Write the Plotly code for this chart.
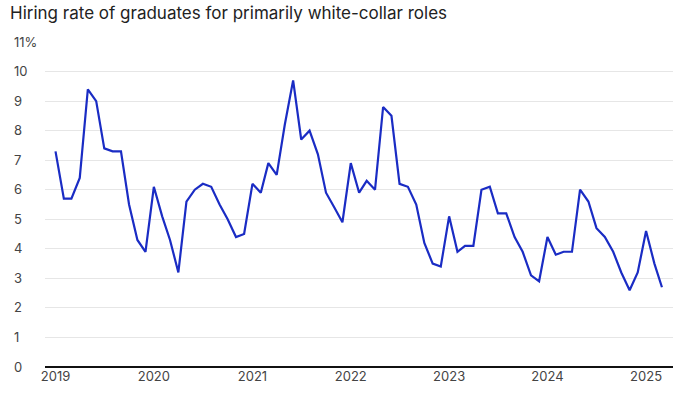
import plotly.graph_objects as go
import pandas as pd

title_text = "Hiring rate of graduates for primarily white-collar roles"
months = pd.date_range("2019-01-01", "2025-03-01", freq="MS")
hiring_rate = [
    7.3, 5.7, 5.7, 6.4, 9.4, 9.0, 7.4, 7.3, 7.3, 5.5, 4.3, 3.9,   # 2019
    6.1, 5.1, 4.3, 3.2, 5.6, 6.0, 6.2, 6.1, 5.5, 5.0, 4.4, 4.5,   # 2020
    6.2, 5.9, 6.9, 6.5, 8.2, 9.7, 7.7, 8.0, 7.2, 5.9, 5.4, 4.9,   # 2021
    6.9, 5.9, 6.3, 6.0, 8.8, 8.5, 6.2, 6.1, 5.5, 4.2, 3.5, 3.4,   # 2022
    5.1, 3.9, 4.1, 4.1, 6.0, 6.1, 5.2, 5.2, 4.4, 3.9, 3.1, 2.9,   # 2023
    4.4, 3.8, 3.9, 3.9, 6.0, 5.6, 4.7, 4.4, 3.9, 3.2, 2.6, 3.2,   # 2024
    4.6, 3.5, 2.7,                                                # 2025
]
y_ticks = list(range(0, 12))
y_ticktext = [str(v) for v in y_ticks[:-1]] + ["11%"]
x_tickvals = pd.date_range("2019-01-01", "2025-01-01", freq="YS")
x_ticktext = [str(d.year) for d in x_tickvals]

fig = go.Figure()
fig.add_trace(go.Scatter(
    x=months, y=hiring_rate, mode="lines",
    line=dict(color="#1a2cc4", width=2.2),
    hoverinfo="x+y",
))

fig.update_layout(
    width=700, height=394,
    margin=dict(l=10, r=27, t=42, b=27, autoexpand=False),
    paper_bgcolor="white", plot_bgcolor="white",
    showlegend=False,
    font=dict(family="Inter, Lato, sans-serif", color="#444"),
    title=dict(
        text=title_text, x=10/700, xanchor="left", xref="container",
        y=1 - 13/394, yanchor="middle", yref="container",
        font=dict(size=17, color="#222", family="Inter, Lato, sans-serif"),
        automargin=False,
    ),
    xaxis=dict(
        domain=[35/663, 1], automargin=False,
        range=["2018-11-23", "2025-04-11"],
        tickvals=x_tickvals, ticktext=x_ticktext,
        showgrid=False, zeroline=False,
        showline=False, ticks="",
        tickfont=dict(size=13, color="#444"),
    ),
    yaxis=dict(
        range=[0, 11], tickvals=y_ticks, ticktext=y_ticktext,
        anchor="free", position=0, side="left", automargin=False,
        ticklabelposition="inside", ticklabeloverflow="allow",
        showgrid=True, gridcolor="#e6e6e6", gridwidth=1,
        zeroline=True, zerolinecolor="#111", zerolinewidth=2,
        showline=False, ticks="",
        tickfont=dict(size=13, color="#444"),
    ),
)

fig.write_html(
    "out.html",
    config={"displayModeBar": False},
    post_script="document.body.style.margin='0';document.body.style.overflow='hidden';",
)
